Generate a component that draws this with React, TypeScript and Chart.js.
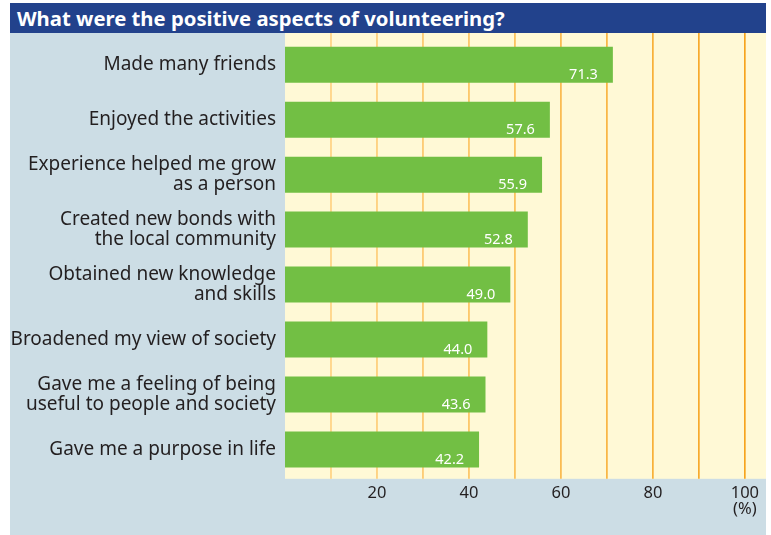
import React, { useEffect, useRef } from "react";
import { Chart, registerables } from "chart.js";
Chart.register(...registerables);

const titleText = "What were the positive aspects of volunteering?";
const categories: string[][] = [
  ["Made many friends"],
  ["Enjoyed the activities"],
  ["Experience helped me grow", "as a person"],
  ["Created new bonds with", "the local community"],
  ["Obtained new knowledge", "and skills"],
  ["Broadened my view of society"],
  ["Gave me a feeling of being", "useful to people and society"],
  ["Gave me a purpose in life"],
];
const values = [71.3, 57.6, 55.9, 52.8, 49.0, 44.0, 43.6, 42.2];
const gridValues = [10, 20, 30, 40, 50, 60, 70, 80, 90, 100];
const tickValues = [20, 40, 60, 80, 100];
const unitLabel = "(%)";
const axisMax = 104.6;

const FONT = "'Noto Sans', 'Open Sans', sans-serif";

function gridColor(v: number) {
  const t = (v - 10) / 90;
  const a = [255, 208, 125];
  const b = [246, 160, 22];
  const c = a.map((x, i) => Math.round(x + (b[i] - x) * t));
  return `rgb(${c[0]},${c[1]},${c[2]})`;
}

export default function App() {
  const ref = useRef<HTMLCanvasElement | null>(null);
  useEffect(() => {
    if (!ref.current) return;
    const bgPlugin = {
      id: "bgGrid",
      beforeDraw(chart: any) {
        const { ctx, chartArea } = chart;
        const xs = chart.scales.x;
        const top = chartArea.top - 4.2;
        const bottom = chartArea.bottom + 1.8;
        ctx.save();
        ctx.fillStyle = "#fff9d6";
        ctx.fillRect(chartArea.left, top, chartArea.right - chartArea.left, bottom - top);
        ctx.lineWidth = 1.6;
        for (const v of gridValues) {
          const x = xs.getPixelForValue(v);
          ctx.strokeStyle = gridColor(v);
          ctx.beginPath();
          ctx.moveTo(x, top);
          ctx.lineTo(x, bottom);
          ctx.stroke();
        }
        ctx.restore();
      },
    };
    const labelPlugin = {
      id: "valueLabels",
      afterDatasetsDraw(chart: any) {
        const { ctx } = chart;
        const meta = chart.getDatasetMeta(0);
        ctx.save();
        ctx.fillStyle = "#ffffff";
        ctx.font = `14.5px ${FONT}`;
        ctx.textAlign = "right";
        ctx.textBaseline = "alphabetic";
        meta.data.forEach((bar: any, i: number) => {
          const h = bar.height;
          ctx.fillText(values[i].toFixed(1), bar.x - 15, bar.y + h / 2 - 4);
        });
        ctx.restore();
      },
    };
    const chart = new Chart(ref.current, {
      type: "bar",
      data: {
        labels: categories,
        datasets: [
          {
            data: values,
            backgroundColor: "#72bf44",
            borderWidth: 0,
            barPercentage: 36 / 55,
            categoryPercentage: 1,
          },
        ],
      },
      options: {
        indexAxis: "y",
        animation: false,
        responsive: false,
        devicePixelRatio: 1,
        layout: { padding: { top: 4.2, left: 0, right: 0, bottom: 0 } },
        plugins: {
          legend: { display: false },
          tooltip: { enabled: false },
          title: { display: false },
        },
        scales: {
          x: {
            type: "linear",
            min: 0,
            max: axisMax,
            afterFit(scale: any) {
              scale.height = 58;
              scale.paddingLeft = 0;
              scale.paddingRight = 0;
            },
            afterBuildTicks(scale: any) {
              scale.ticks = tickValues.map((v) => ({ value: v }));
            },
            grid: { display: false, drawTicks: false },
            border: { display: false },
            ticks: {
              autoSkip: false,
              maxRotation: 0,
              padding: 8,
              color: "#231f20",
              font: { family: FONT, size: 16.5, lineHeight: 0.97 },
              callback: (v: any) => (Number(v) === 100 ? [String(v), unitLabel] : String(v)),
            },
          },
          y: {
            afterFit(scale: any) {
              scale.width = 275;
              scale.paddingTop = 0;
              scale.paddingBottom = 0;
            },
            grid: { display: false, drawTicks: false },
            border: { display: false },
            ticks: {
              padding: 9,
              color: "#231f20",
              font: { family: FONT, size: 19, lineHeight: 1.05 },
            },
          },
        },
      },
      plugins: [bgPlugin, labelPlugin],
    });
    return () => chart.destroy();
  }, []);

  return (
    <div style={{ position: "fixed", left: 0, top: 0, width: 771, height: 535, background: "#ffffff" }}>
      <div
        style={{
          position: "absolute",
          left: 10,
          top: 3,
          width: 756,
          height: 30,
          background: "#22428c",
          color: "#ffffff",
          fontFamily: FONT,
          fontWeight: 700,
          fontSize: 20.3,
          lineHeight: "30px",
          paddingLeft: 7,
          boxSizing: "border-box",
          whiteSpace: "nowrap",
        }}
      >
        {titleText}
      </div>
      <div style={{ position: "absolute", left: 10, top: 33, width: 756, height: 502, background: "#ccdde5" }}>
        <canvas ref={ref} width={756} height={502} style={{ display: "block" }} />
      </div>
    </div>
  );
}
